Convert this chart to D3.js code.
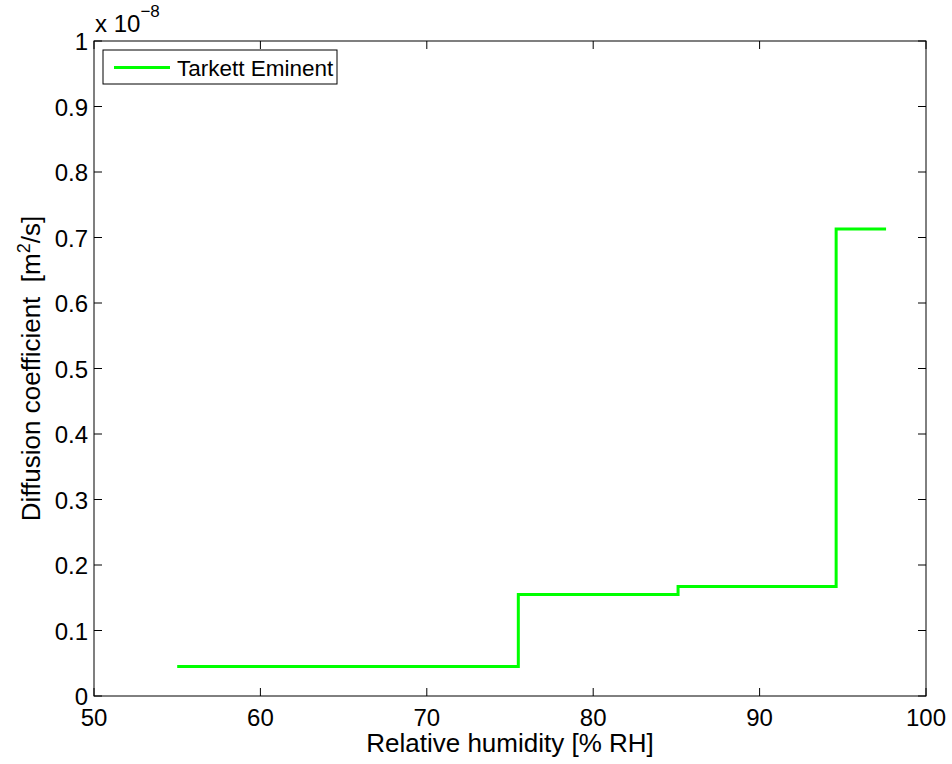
<!DOCTYPE html>
<html lang="en">
<head>
  <meta charset="UTF-8">
  <title>Diffusion coefficient</title>
  <script src="https://d3js.org/d3.v7.min.js"></script>
  <style>
    body { margin: 0; background: #fff; }
    text { font-family: "Liberation Sans", Arial, sans-serif; fill: #000; }
  </style>
</head>
<body>
  <script>
    "use strict";
    // step data (x = RH %, y = D in units of 1e-8 m2/s)
    var humidity = [55, 75.5, 85.1, 94.6, 97.6];
    var diffusion = [0.045, 0.155, 0.167, 0.713, 0.713];
    var seriesName = "Tarkett Eminent";
    var xTicks = [50, 60, 70, 80, 90, 100];
    var yTicks = [0, 0.1, 0.2, 0.3, 0.4, 0.5, 0.6, 0.7, 0.8, 0.9, 1];

    var points = humidity.map(function (h, i) { return { x: h, y: diffusion[i] }; });

    var W = 952, H = 764;
    // plot box (named to avoid clashing with window.top)
    var pLeft = 94, pRight = 926, pTop = 41, pBottom = 696;
    var tickLen = 8;

    var svg = d3.select('body').append('svg')
      .attr('width', W)
      .attr('height', H);

    var x = d3.scaleLinear().domain([50, 100]).range([pLeft, pRight]);
    var y = d3.scaleLinear().domain([0, 1]).range([pBottom, pTop]);

    // axes box
    svg.append('rect')
      .attr('x', pLeft).attr('y', pTop)
      .attr('width', pRight - pLeft).attr('height', pBottom - pTop)
      .attr('fill', 'white').attr('stroke', 'black').attr('stroke-width', 1);

    // ticks on all four sides (inward)
    var tg = svg.append('g').attr('stroke', 'black').attr('stroke-width', 1);
    xTicks.forEach(function (t) {
      tg.append('line').attr('x1', x(t)).attr('x2', x(t)).attr('y1', pBottom).attr('y2', pBottom - tickLen);
      tg.append('line').attr('x1', x(t)).attr('x2', x(t)).attr('y1', pTop).attr('y2', pTop + tickLen);
    });
    yTicks.forEach(function (t) {
      tg.append('line').attr('x1', pLeft).attr('x2', pLeft + tickLen).attr('y1', y(t)).attr('y2', y(t));
      tg.append('line').attr('x1', pRight).attr('x2', pRight - tickLen).attr('y1', y(t)).attr('y2', y(t));
    });

    // tick labels
    svg.selectAll('.xlab')
      .data(xTicks)
      .enter().append('text')
      .attr('x', function (d) { return x(d); })
      .attr('y', pBottom + 30)
      .attr('text-anchor', 'middle')
      .attr('font-size', '24px')
      .text(function (d) { return d; });

    svg.selectAll('.ylab')
      .data(yTicks)
      .enter().append('text')
      .attr('x', pLeft - 6)
      .attr('y', function (d) { return y(d) + 9; })
      .attr('text-anchor', 'end')
      .attr('font-size', '24px')
      .text(function (d) { return d3.format('~g')(d); });

    // exponent label
    var ex = svg.append('text').attr('x', 95).attr('y', 32).attr('font-size', '24px');
    ex.append('tspan').text('x 10');
    ex.append('tspan').attr('dy', -15).attr('font-size', '17px').text('\u22128');

    // axis labels
    svg.append('text')
      .attr('x', (pLeft + pRight) / 2)
      .attr('y', 752)
      .attr('text-anchor', 'middle')
      .attr('font-size', '26px')
      .text('Relative humidity [% RH]');

    var yl = svg.append('text')
      .attr('transform', 'translate(40,' + ((pTop + pBottom) / 2) + ') rotate(-90)')
      .attr('text-anchor', 'middle')
      .attr('font-size', '26px');
    yl.append('tspan').text('Diffusion coefficient\u00a0 [m');
    yl.append('tspan').attr('dy', -10).attr('font-size', '18px').text('2');
    yl.append('tspan').attr('dy', 10).text('/s]');

    // step line
    var line = d3.line()
      .x(function (d) { return x(d.x); })
      .y(function (d) { return y(d.y); })
      .curve(d3.curveStepAfter);

    svg.append('path')
      .datum(points)
      .attr('fill', 'none')
      .attr('stroke', '#00ff00')
      .attr('stroke-width', 3)
      .attr('d', line);

    // legend
    var lg = svg.append('g');
    lg.append('rect')
      .attr('x', 103).attr('y', 50).attr('width', 234).attr('height', 34)
      .attr('fill', 'white').attr('stroke', 'black').attr('stroke-width', 1);
    lg.append('line')
      .attr('x1', 114).attr('x2', 170).attr('y1', 67.5).attr('y2', 67.5)
      .attr('stroke', '#00ff00').attr('stroke-width', 3);
    lg.append('text')
      .attr('x', 177).attr('y', 75.5)
      .attr('font-size', '22.5px')
      .text(seriesName);
  </script>
</body>
</html>
